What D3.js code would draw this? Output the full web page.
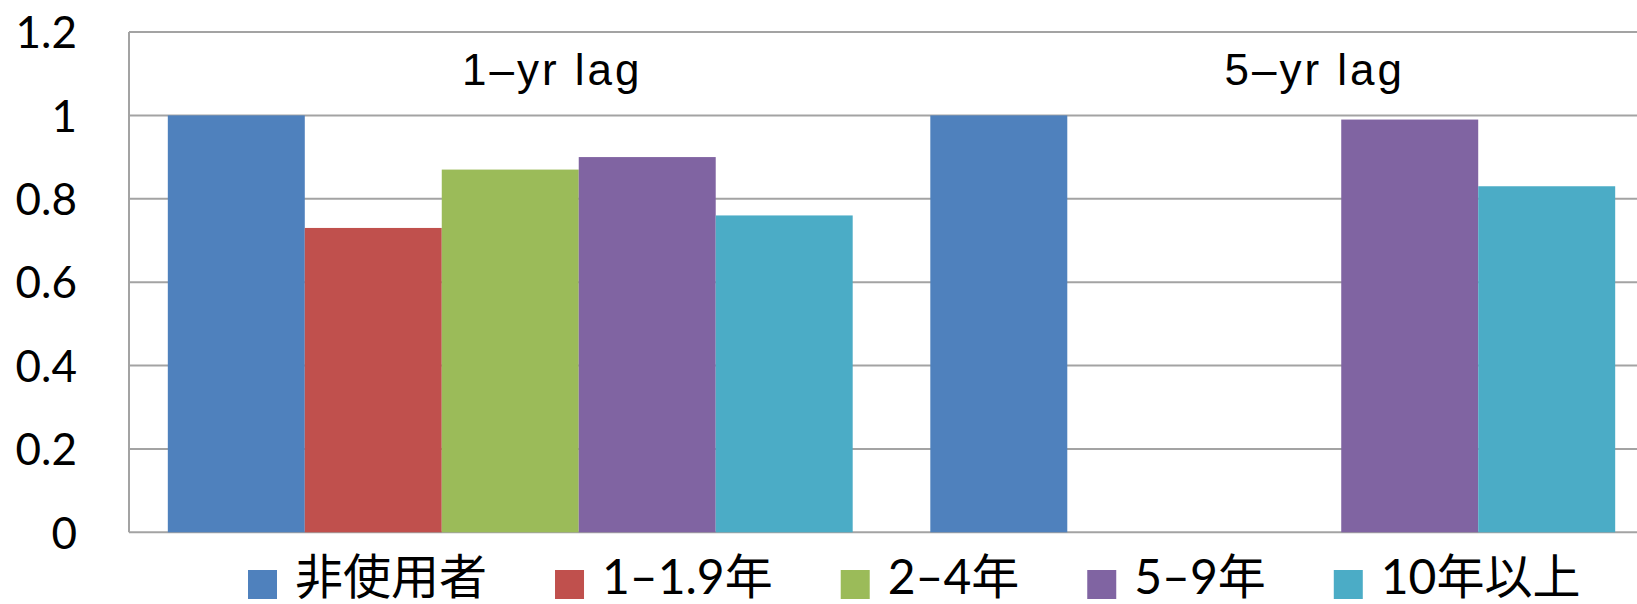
<!DOCTYPE html>
<html>
<head>
<meta charset="utf-8">
<script src="https://cdn.jsdelivr.net/npm/d3@7"></script>
<style>
  html, body { margin: 0; padding: 0; background: #fff; overflow: hidden; }
  svg { display: block; }
</style>
</head>
<body>
<svg id="chart" width="1637" height="604"></svg>
<script>
// Lag groups and duration-of-use categories
const groups = ["1–yr lag", "5–yr lag"];
const series = ["非使用者", "1–1.9年", "2–4年", "5–9年", "10年以上"];
const colors = ["#4F81BD", "#C0504D", "#9BBB59", "#8064A2", "#4BACC6"];

// Relative values per group, in series order (null = no bar)
const lag1 = [1.0, 0.73, 0.87, 0.90, 0.76];
const lag5 = [1.0, null, null, 0.99, 0.83];
const values = [lag1, lag5];

const yTicks = [0, 0.2, 0.4, 0.6, 0.8, 1.0, 1.2];

const svg = d3.select("#chart");
const W = 1637;
const plot = { left: 129, right: 1654, top: 32, bottom: 532.3 };

const x0 = d3.scaleBand()
  .domain(groups)
  .range([plot.left, plot.right])
  .paddingInner(0.1018)
  .paddingOuter(0.0509);

const x1 = d3.scaleBand()
  .domain(series)
  .range([0, x0.bandwidth()])
  .padding(0);

const y = d3.scaleLinear()
  .domain([0, 1.2])
  .range([plot.bottom, plot.top]);

const color = d3.scaleOrdinal().domain(series).range(colors);

// Horizontal gridlines (also form the top border and baseline)
svg.append("g")
  .selectAll("line")
  .data(yTicks)
  .join("line")
  .attr("x1", plot.left)
  .attr("x2", W + 40)
  .attr("y1", d => y(d))
  .attr("y2", d => y(d))
  .attr("stroke", "#a3a3a3")
  .attr("stroke-width", 2);

// Bars
const rows = [];
groups.forEach((g, gi) => {
  series.forEach((s, si) => {
    const v = values[gi][si];
    if (v != null) rows.push({ group: g, series: s, value: v });
  });
});

svg.append("g")
  .selectAll("rect")
  .data(rows)
  .join("rect")
  .attr("x", d => x0(d.group) + x1(d.series))
  .attr("y", d => y(d.value))
  .attr("width", x1.bandwidth())
  .attr("height", d => y(0) - y(d.value))
  .attr("fill", d => color(d.series));

// Left axis line
svg.append("line")
  .attr("x1", plot.left).attr("x2", plot.left)
  .attr("y1", plot.top).attr("y2", plot.bottom)
  .attr("stroke", "#a3a3a3")
  .attr("stroke-width", 2);

// Y axis labels
const yAxis = d3.axisLeft(y)
  .tickValues(yTicks)
  .tickFormat(d3.format("~g"))
  .tickSize(0)
  .tickPadding(52);

const yg = svg.append("g")
  .attr("transform", `translate(${plot.left},0)`)
  .call(yAxis);
yg.select(".domain").remove();
yg.selectAll("text")
  .attr("fill", "#000")
  .attr("dy", "0.36em")
  .style("font-family", "Lato, 'Noto Sans', sans-serif")
  .style("font-size", "44px");

// Group captions inside the top band
svg.append("g")
  .selectAll("text")
  .data(groups)
  .join("text")
  .attr("x", d => x0(d) + x0.bandwidth() / 2 + 42)
  .attr("y", 85)
  .attr("text-anchor", "middle")
  .style("font-family", "'Liberation Sans', Arial, sans-serif")
  .style("font-size", "44px")
  .style("letter-spacing", "3px")
  .attr("fill", "#000")
  .text(d => d);

// Legend
const legend = svg.append("g");
let lx = 248;
series.forEach(s => {
  legend.append("rect")
    .attr("x", lx)
    .attr("y", 570)
    .attr("width", 29)
    .attr("height", 29)
    .attr("fill", color(s));
  const t = legend.append("text")
    .attr("x", lx + 47)
    .attr("y", 594)
    .style("font-family", "Lato, 'Noto Sans CJK JP', sans-serif")
    .style("font-size", "48px")
    .attr("fill", "#000")
    .text(s);
  lx += 47 + t.node().getComputedTextLength() + 68;
});
</script>
</body>
</html>
